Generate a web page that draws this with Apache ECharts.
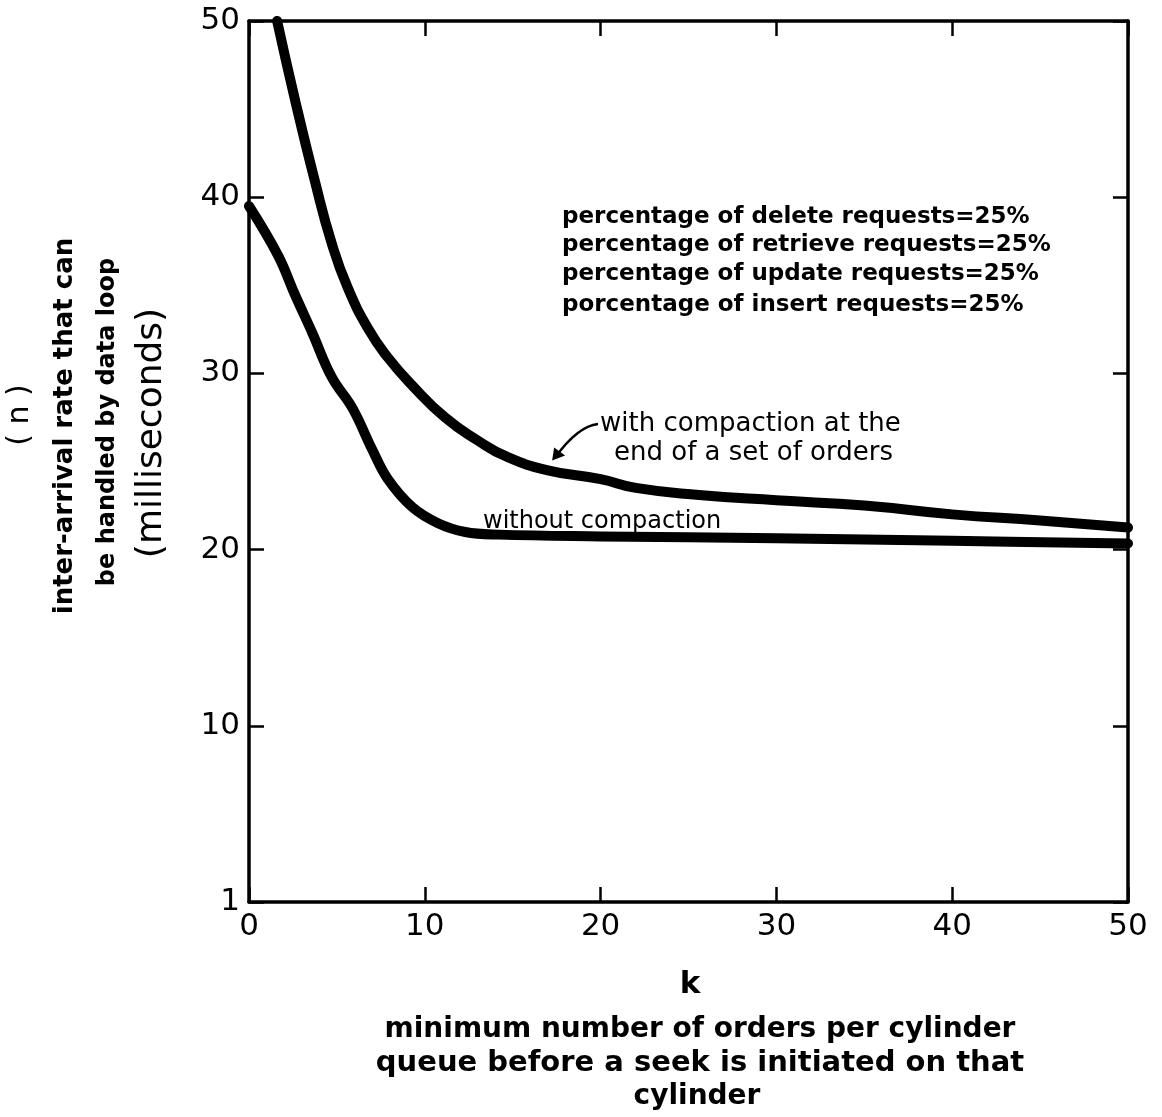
<!DOCTYPE html>
<html>
<head>
<meta charset="utf-8">
<script src="https://cdn.jsdelivr.net/npm/echarts@6/dist/echarts.min.js"></script>
<style>
html,body{margin:0;padding:0;background:#fff;}
#chart{width:1162px;height:1117px;}
</style>
</head>
<body>
<div id="chart"></div>
<script>
// ---- data ----
var xTicks = [0, 10, 20, 30, 40, 50];
var yTicks = [0, 10, 20, 30, 40, 50];
var yTickLabels = {0: '1', 10: '10', 20: '20', 30: '30', 40: '40', 50: '50'};
var withCompaction = [
  [1.6, 50], [2.6, 45.6], [3.75, 40.9], [4.7, 37.4], [5.6, 34.9], [6.8, 32.5],
  [7.9, 30.9], [9.3, 29.3], [11.15, 27.5], [13.0, 26.2], [14.6, 25.3], [17, 24.5],
  [20, 24.0], [22, 23.5], [25.6, 23.1], [30, 22.8], [35, 22.5], [40, 22.0],
  [45, 21.65], [50, 21.25]
];
var withoutCompaction = [
  [0, 39.5], [1.65, 36.7], [2.6, 34.5], [3.6, 32.3], [4.7, 29.8], [5.9, 28.0],
  [7.0, 25.7], [7.9, 24.0], [9.3, 22.4], [10.75, 21.5], [12.3, 21.0], [14.2, 20.85],
  [20, 20.75], [30, 20.65], [40, 20.5], [50, 20.35]
];
var noteLines = [
  'percentage of delete requests=25%',
  'percentage of retrieve requests=25%',
  'percentage of update requests=25%',
  'porcentage of insert requests=25%'
];
var yTitleLines = ['( n )', 'inter-arrival rate that can', 'be handled by data loop', '(milliseconds)'];
var xTitleLines = ['k', 'minimum number of orders per cylinder', 'queue before a seek is initiated on that', 'cylinder'];

var FONT = 'DejaVu Sans';
var chart = echarts.init(document.getElementById('chart'), null, {renderer: 'canvas'});

function axisCommon(extra) {
  var a = {
    type: 'value', min: 0, max: 50, interval: 10,
    axisLine: {show: true, onZero: false, lineStyle: {color: '#000', width: 3.5}},
    axisTick: {show: true, inside: true, length: 15, lineStyle: {color: '#000', width: 2.5}},
    splitLine: {show: false},
    axisLabel: {show: false}
  };
  for (var k in extra) a[k] = extra[k];
  return a;
}

var option = {
  animation: false,
  backgroundColor: '#fff',
  grid: {left: 249, right: 34, top: 21, bottom: 215, containLabel: false},
  xAxis: [
    axisCommon({position: 'bottom', axisLabel: {show: true, color: '#000', fontSize: 31, fontFamily: FONT, margin: 9}}),
    axisCommon({position: 'top'})
  ],
  yAxis: [
    axisCommon({position: 'left', axisLabel: {show: true, color: '#000', fontSize: 31, fontFamily: FONT, margin: 9,
      formatter: function (v) { return yTickLabels[v] !== undefined ? yTickLabels[v] : String(v); }}}),
    axisCommon({position: 'right'})
  ],
  series: [
    {type: 'line', name: 'with compaction', data: withCompaction, xAxisIndex: 0, yAxisIndex: 0,
      showSymbol: false, smooth: 0.5, clip: true,
      lineStyle: {color: '#000', width: 10, cap: 'round', join: 'round'}},
    {type: 'line', name: 'without compaction', data: withoutCompaction, xAxisIndex: 0, yAxisIndex: 0,
      showSymbol: false, smooth: 0.4, clip: true,
      lineStyle: {color: '#000', width: 10, cap: 'round', join: 'round'}}
  ]
};
chart.setOption(option);

function px(x, y) { return chart.convertToPixel({xAxisIndex: 0, yAxisIndex: 0}, [x, y]); }

var graphics = [];
// note block
var noteY = [217, 245, 274, 305];
noteLines.forEach(function (t, i) {
  graphics.push({type: 'text', x: 562, y: noteY[i],
    style: {text: t, fill: '#000', font: 'bold 23px "' + FONT + '"', textVerticalAlign: 'middle'}});
});
// curve labels
graphics.push({type: 'text', x: 600, y: 424, style: {text: 'with compaction at the', fill: '#000', font: '26px "' + FONT + '"', textVerticalAlign: 'middle'}});
graphics.push({type: 'text', x: 614, y: 453, style: {text: 'end of a set of orders', fill: '#000', font: '26px "' + FONT + '"', textVerticalAlign: 'middle'}});
graphics.push({type: 'text', x: 483, y: 522, style: {text: 'without compaction', fill: '#000', font: '24px "' + FONT + '"', textVerticalAlign: 'middle'}});
// arrow toward the upper curve
var tip = px(17.3, 25.0);
graphics.push({type: 'bezierCurve', shape: {x1: 598, y1: 424, cpx1: 578, cpy1: 426, x2: tip[0] + 2, y2: tip[1] - 4},
  style: {stroke: '#000', lineWidth: 2.5, fill: null}});
graphics.push({type: 'polygon', shape: {points: [[tip[0] - 1, tip[1] - 1], [tip[0] + 1, tip[1] - 14], [tip[0] + 12, tip[1] - 6]]},
  style: {fill: '#000'}});
// y-axis title (rotated)
var yCols = [
  {x: 20, y: 415, font: '30px "' + FONT + '"'},
  {x: 65, y: 426, font: 'bold 26px "' + FONT + '"'},
  {x: 108, y: 422, font: 'bold 24px "' + FONT + '"'},
  {x: 152, y: 433, font: '36px "' + FONT + '"'}
];
yTitleLines.forEach(function (t, i) {
  graphics.push({type: 'text', x: yCols[i].x, y: yCols[i].y, rotation: Math.PI / 2,
    style: {text: t, fill: '#000', font: yCols[i].font, textAlign: 'center', textVerticalAlign: 'middle'}});
});
// x-axis title
var xRows = [
  {x: 690, y: 985, font: 'bold 31px "' + FONT + '"'},
  {x: 700, y: 1030, font: 'bold 28px "' + FONT + '"'},
  {x: 700, y: 1063, font: 'bold 29px "' + FONT + '"'},
  {x: 697, y: 1097, font: 'bold 28px "' + FONT + '"'}
];
xTitleLines.forEach(function (t, i) {
  graphics.push({type: 'text', x: xRows[i].x, y: xRows[i].y,
    style: {text: t, fill: '#000', font: xRows[i].font, textAlign: 'center', textVerticalAlign: 'middle'}});
});
chart.setOption({graphic: graphics});
</script>
</body>
</html>
